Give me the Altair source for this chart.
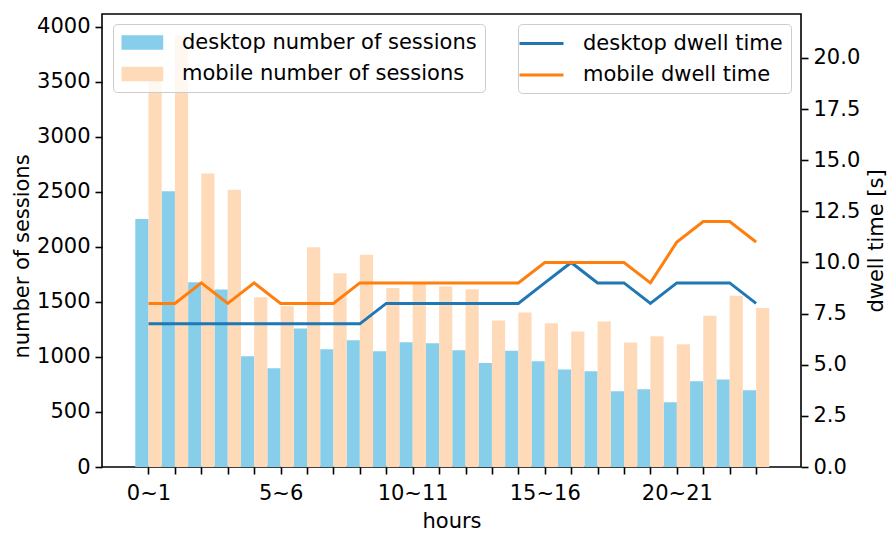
import altair as alt
import pandas as pd

hours = list(range(24))
desktop_sessions = [2252, 2506, 1679, 1612, 1006, 897, 1258, 1070, 1152, 1052, 1134, 1125,
                    1061, 945, 1055, 961, 885, 870, 688, 706, 588, 779, 795, 697]
mobile_sessions = [3590, 3918, 2667, 2518, 1543, 1461, 1997, 1761, 1927, 1627, 1672, 1640,
                   1615, 1331, 1403, 1306, 1231, 1322, 1131, 1188, 1115, 1373, 1555, 1445]
desktop_dwell = [7, 7, 7, 7, 7, 7, 7, 7, 7, 8, 8, 8, 8, 8, 8, 9, 10, 9, 9, 8, 9, 9, 9, 8]
mobile_dwell = [8, 8, 9, 8, 9, 8, 8, 8, 9, 9, 9, 9, 9, 9, 9, 10, 10, 10, 10, 9, 11, 12, 12, 11]

bar_names = ["desktop number of sessions", "mobile number of sessions"]
line_names = ["desktop dwell time", "mobile dwell time"]

bar_df = pd.DataFrame(
    [{"hour": h, "series": bar_names[0], "sessions": v} for h, v in zip(hours, desktop_sessions)]
    + [{"hour": h, "series": bar_names[1], "sessions": v} for h, v in zip(hours, mobile_sessions)]
)
line_df = pd.DataFrame(
    [{"hour": h, "series": line_names[0], "dwell": v} for h, v in zip(hours, desktop_dwell)]
    + [{"hour": h, "series": line_names[1], "dwell": v} for h, v in zip(hours, mobile_dwell)]
)

FONT = "DejaVu Sans"
FS = 21

xscale = alt.Scale(domain=[-1.76, 24.70], nice=False, zero=False)


def x_axis():
    return alt.Axis(values=hours, grid=False, domain=False,
                    labelExpr="datum.value % 5 == 0 ? datum.value + '~' + (datum.value + 1) : ''",
                    tickSize=7, tickWidth=1.6, tickColor="black",
                    labelFontSize=FS, labelFont=FONT, labelColor="black", labelPadding=8,
                    labelFlush=False, labelOverlap=False,
                    titleFontSize=FS, titleFont=FONT, titleFontWeight="normal",
                    titleColor="black", titlePadding=7)


legend_common = dict(
    orient="none",
    title=None,
    labelFontSize=FS,
    labelFont=FONT,
    labelColor="black",
    labelLimit=0,
    fillColor="rgba(255,255,255,0.8)",
    strokeColor="#cccccc",
    cornerRadius=4,
    padding=8,
    rowPadding=9.5,
    legendY=10,
)

bars = alt.Chart(bar_df).transform_calculate(
    x0=f"datum.series == '{bar_names[0]}' ? datum.hour - 0.5 : datum.hour",
    x1=f"datum.series == '{bar_names[0]}' ? datum.hour : datum.hour + 0.5",
).mark_bar(strokeWidth=0, opacity=1).encode(
    x=alt.X("x0:Q", scale=xscale, title="hours", axis=x_axis()),
    x2="x1:Q",
    y=alt.Y("sessions:Q", scale=alt.Scale(domain=[0, 4115], nice=False),
            title="number of sessions",
            axis=alt.Axis(values=list(range(0, 4001, 500)), format="d", grid=False, domain=False,
                          tickSize=7, tickWidth=1.6, tickColor="black",
                          labelFontSize=FS, labelFont=FONT, labelColor="black", labelPadding=5,
                          titleFontSize=FS, titleFont=FONT, titleFontWeight="normal",
                          titleColor="black", titlePadding=4, titleY=242)),
    y2=alt.datum(0),
    fill=alt.Fill("series:N",
                  scale=alt.Scale(domain=bar_names, range=["#87CEEB", "#FFDAB9"]),
                  legend=alt.Legend(symbolType="M-1,-0.73L3.17,-0.73L3.17,0.73L-1,0.73Z",
                                    symbolSize=400, symbolStrokeWidth=0, symbolOpacity=1,
                                    labelOffset=40, legendX=11, **legend_common)),
)

lines = alt.Chart(line_df).mark_line(strokeWidth=3).encode(
    x=alt.X("hour:Q", scale=xscale, title="hours", axis=x_axis()),
    y=alt.Y("dwell:Q", scale=alt.Scale(domain=[0, 22.15], nice=False),
            title="dwell time [s]",
            axis=alt.Axis(orient="right", values=[0, 2.5, 5, 7.5, 10, 12.5, 15, 17.5, 20],
                          format=".1f", grid=False, domain=False,
                          tickSize=7, tickWidth=1.6, tickColor="black",
                          labelFontSize=FS, labelFont=FONT, labelColor="black", labelPadding=5,
                          titleFontSize=FS, titleFont=FONT, titleFontWeight="normal",
                          titleColor="black", titleAngle=270, titleBaseline="top",
                          titlePadding=6)),
    stroke=alt.Stroke("series:N",
                      scale=alt.Scale(domain=line_names, range=["#1f77b4", "#ff7f0e"]),
                      legend=alt.Legend(symbolType="M-1.8,0L2.6,0",
                                        symbolSize=400, symbolStrokeWidth=3,
                                        labelOffset=34, legendX=416, **legend_common)),
)

chart = alt.layer(bars, lines).resolve_scale(y="independent").properties(
    width=699, height=453,
    autosize=alt.AutoSizeParams(type="none"),
    padding={"left": 102, "top": 14, "right": 90, "bottom": 70},
).configure(
    font=FONT,
    view=alt.ViewConfig(stroke="black", strokeWidth=1.6),
)

chart.save("out.html", embed_options={"renderer": "svg", "actions": False})
